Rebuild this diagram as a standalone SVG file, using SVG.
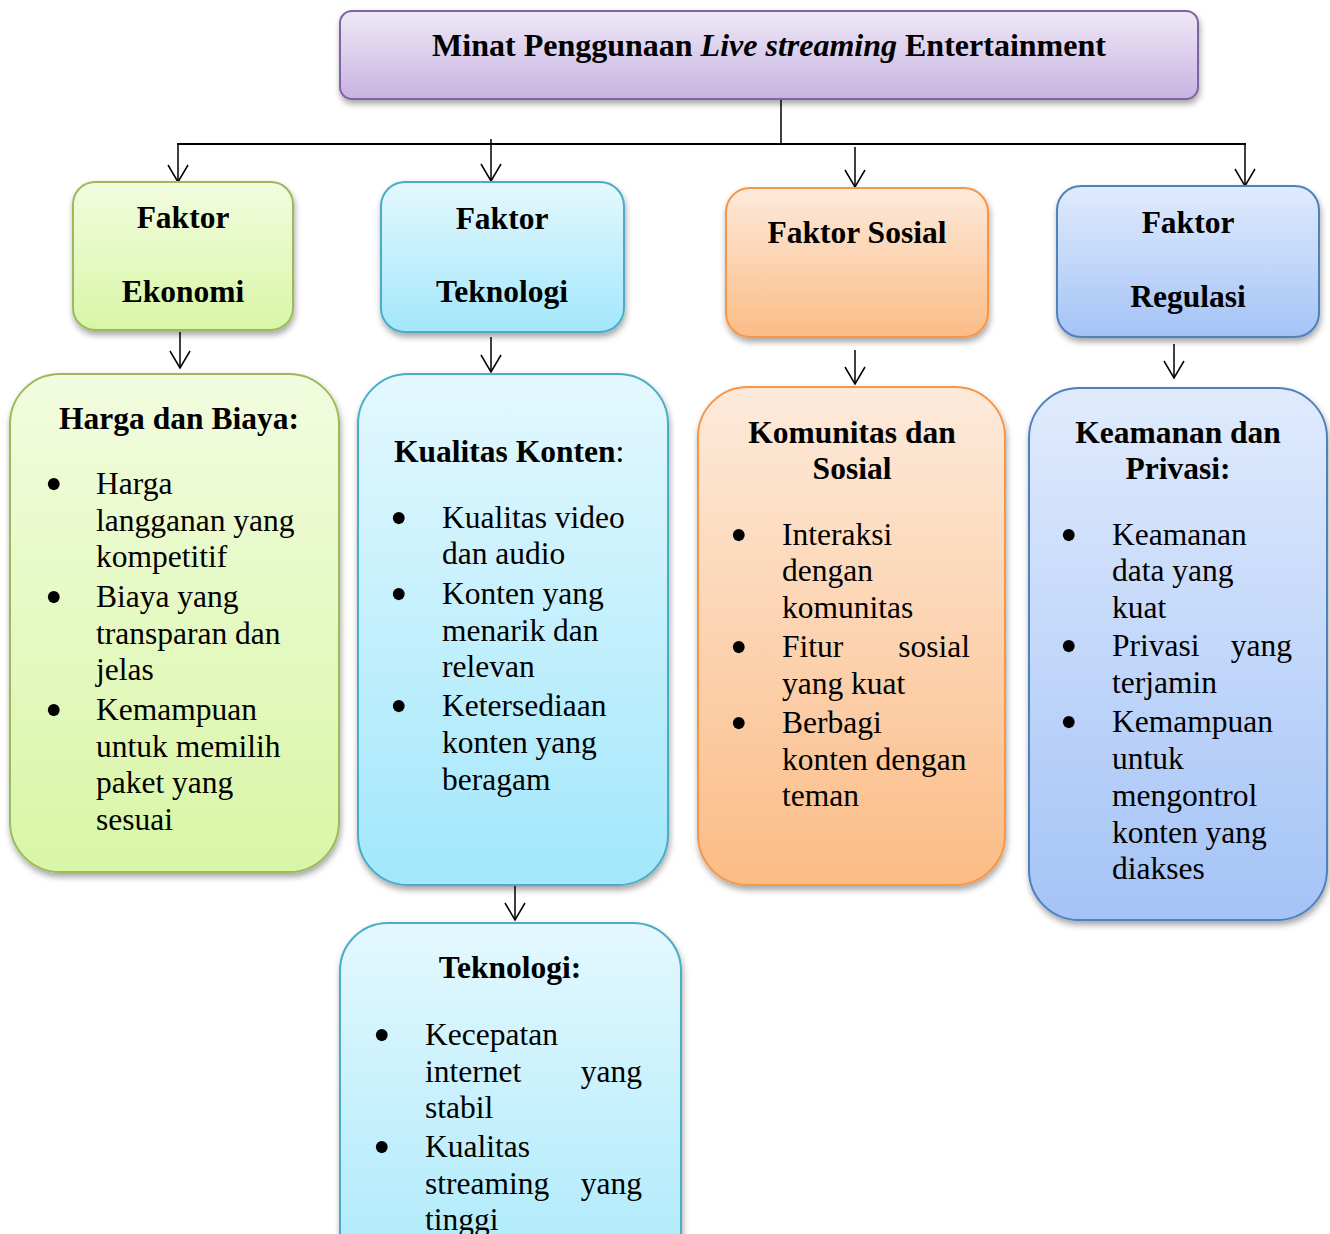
<svg xmlns="http://www.w3.org/2000/svg" width="1330" height="1234" viewBox="0 0 1330 1234">
<defs>
<linearGradient id="gPurple" x1="0" y1="0" x2="0" y2="1"><stop offset="0" stop-color="#eee8f6"/><stop offset="1" stop-color="#c8b3e1"/></linearGradient>
<linearGradient id="gGreen" x1="0" y1="0" x2="0" y2="1"><stop offset="0" stop-color="#f2fcdf"/><stop offset="1" stop-color="#d8f6a6"/></linearGradient>
<linearGradient id="gCyan" x1="0" y1="0" x2="0" y2="1"><stop offset="0" stop-color="#e4f8fe"/><stop offset="1" stop-color="#a2e7fb"/></linearGradient>
<linearGradient id="gOrange" x1="0" y1="0" x2="0" y2="1"><stop offset="0" stop-color="#fdeadb"/><stop offset="1" stop-color="#fbbc86"/></linearGradient>
<linearGradient id="gBlue" x1="0" y1="0" x2="0" y2="1"><stop offset="0" stop-color="#e0ebfd"/><stop offset="1" stop-color="#a4c3f6"/></linearGradient>
<filter id="sh" x="-10%" y="-10%" width="120%" height="130%"><feDropShadow dx="1" dy="4" stdDeviation="3" flood-color="#000" flood-opacity="0.35"/></filter>
<marker id="ah" viewBox="-19 -12 21 24" refX="0" refY="0" markerWidth="21" markerHeight="24" markerUnits="userSpaceOnUse" orient="auto"><path d="M-17,-10 L0,0 L-17,10" fill="none" stroke="#000" stroke-width="1.5"/></marker>
</defs>
<style>
text{font-family:"Liberation Serif","Times New Roman",serif;fill:#000}
.t{font-size:32px;font-weight:bold}
.h{font-size:31.5px;font-weight:bold}
.b{font-size:31.5px}
.d{font-size:50px}
.c{text-anchor:middle}
.r{text-anchor:end}
.box{stroke-width:2;filter:url(#sh)}
.pur{fill:url(#gPurple);stroke:#8064a2}
.grn{fill:url(#gGreen);stroke:#9bbb59}
.cyn{fill:url(#gCyan);stroke:#4bacc6}
.org{fill:url(#gOrange);stroke:#f79646}
.blu{fill:url(#gBlue);stroke:#4f81bd}
.ln{stroke:#000;stroke-width:1.5;fill:none}
.ar{stroke:#000;stroke-width:1.5;fill:none;marker-end:url(#ah)}
</style>

<g id="connectors">
<path class="ln" d="M781,99 V144"/>
<path class="ln" style="stroke-width:2" d="M177,144 H1246"/>
<path class="ar" d="M178,144 V182"/>
<path class="ar" d="M491,139 V181"/>
<path class="ar" d="M855,147 V187"/>
<path class="ar" d="M1245,144 V186"/>
<path class="ar" d="M180,332 V368"/>
<path class="ar" d="M491,337 V372"/>
<path class="ar" d="M855,350 V384"/>
<path class="ar" d="M1174,344 V378"/>
<path class="ar" d="M515,886 V920"/>
</g>

<g id="root">
<rect class="box pur" x="340" y="11" width="858" height="88" rx="12"/>
<text class="t c" x="769" y="56">Minat Penggunaan <tspan font-style="italic">Live streaming</tspan> Entertainment</text>
</g>

<g id="faktor-ekonomi">
<rect class="box grn" x="73" y="182" width="220" height="148" rx="22"/>
<text class="h c" x="183" y="228">Faktor</text>
<text class="h c" x="183" y="302">Ekonomi</text>
</g>

<g id="faktor-teknologi">
<rect class="box cyn" x="381" y="182" width="243" height="150" rx="24"/>
<text class="h c" x="502" y="229">Faktor</text>
<text class="h c" x="502" y="302">Teknologi</text>
</g>

<g id="faktor-sosial">
<rect class="box org" x="726" y="188" width="262" height="149" rx="24"/>
<text class="h c" x="857" y="243">Faktor Sosial</text>
</g>

<g id="faktor-regulasi">
<rect class="box blu" x="1057" y="186" width="262" height="151" rx="24"/>
<text class="h c" x="1188" y="233">Faktor</text>
<text class="h c" x="1188" y="307">Regulasi</text>
</g>

<g id="harga-biaya">
<rect class="box grn" x="10" y="374" width="329" height="498" rx="50"/>
<text class="h c" x="179" y="429">Harga dan Biaya:</text>
<text class="d" x="45" y="501">•</text>
<text class="b" x="96" y="494">Harga</text>
<text class="b" x="96" y="531">langganan yang</text>
<text class="b" x="96" y="567">kompetitif</text>
<text class="d" x="45" y="614">•</text>
<text class="b" x="96" y="607">Biaya yang</text>
<text class="b" x="96" y="644">transparan dan</text>
<text class="b" x="96" y="680">jelas</text>
<text class="d" x="45" y="727">•</text>
<text class="b" x="96" y="720">Kemampuan</text>
<text class="b" x="96" y="757">untuk memilih</text>
<text class="b" x="96" y="793">paket yang</text>
<text class="b" x="96" y="830">sesuai</text>
</g>

<g id="kualitas-konten">
<rect class="box cyn" x="358" y="374" width="310" height="511" rx="50"/>
<text class="h" x="394" y="462">Kualitas Konten<tspan font-weight="normal">:</tspan></text>
<text class="d" x="390" y="535">•</text>
<text class="b" x="442" y="528">Kualitas video</text>
<text class="b" x="442" y="564">dan audio</text>
<text class="d" x="390" y="611">•</text>
<text class="b" x="442" y="604">Konten yang</text>
<text class="b" x="442" y="641">menarik dan</text>
<text class="b" x="442" y="677">relevan</text>
<text class="d" x="390" y="723">•</text>
<text class="b" x="442" y="716">Ketersediaan</text>
<text class="b" x="442" y="753">konten yang</text>
<text class="b" x="442" y="790">beragam</text>
</g>

<g id="komunitas-sosial">
<rect class="box org" x="698" y="387" width="307" height="498" rx="50"/>
<text class="h c" x="852" y="443">Komunitas dan</text>
<text class="h c" x="852" y="479">Sosial</text>
<text class="d" x="730" y="552">•</text>
<text class="b" x="782" y="545">Interaksi</text>
<text class="b" x="782" y="581">dengan</text>
<text class="b" x="782" y="618">komunitas</text>
<text class="d" x="730" y="664">•</text>
<text class="b" x="782" y="657">Fitur</text>
<text class="b r" x="970" y="657">sosial</text>
<text class="b" x="782" y="694">yang kuat</text>
<text class="d" x="730" y="740">•</text>
<text class="b" x="782" y="733">Berbagi</text>
<text class="b" x="782" y="770">konten dengan</text>
<text class="b" x="782" y="806">teman</text>
</g>

<g id="keamanan-privasi">
<rect class="box blu" x="1029" y="388" width="298" height="532" rx="50"/>
<text class="h c" x="1178" y="443">Keamanan dan</text>
<text class="h c" x="1178" y="479">Privasi:</text>
<text class="d" x="1060" y="552">•</text>
<text class="b" x="1112" y="545">Keamanan</text>
<text class="b" x="1112" y="581">data yang</text>
<text class="b" x="1112" y="618">kuat</text>
<text class="d" x="1060" y="663">•</text>
<text class="b" x="1112" y="656">Privasi</text>
<text class="b r" x="1292" y="656">yang</text>
<text class="b" x="1112" y="693">terjamin</text>
<text class="d" x="1060" y="739">•</text>
<text class="b" x="1112" y="732">Kemampuan</text>
<text class="b" x="1112" y="769">untuk</text>
<text class="b" x="1112" y="806">mengontrol</text>
<text class="b" x="1112" y="843">konten yang</text>
<text class="b" x="1112" y="879">diakses</text>
</g>

<g id="teknologi">
<rect class="box cyn" x="340" y="923" width="341" height="420" rx="48"/>
<text class="h c" x="510" y="978">Teknologi:</text>
<text class="d" x="373" y="1052">•</text>
<text class="b" x="425" y="1045">Kecepatan</text>
<text class="b" x="425" y="1082">internet</text>
<text class="b r" x="642" y="1082">yang</text>
<text class="b" x="425" y="1118">stabil</text>
<text class="d" x="373" y="1164">•</text>
<text class="b" x="425" y="1157">Kualitas</text>
<text class="b" x="425" y="1194">streaming</text>
<text class="b r" x="642" y="1194">yang</text>
<text class="b" x="425" y="1230">tinggi</text>
</g>
</svg>
